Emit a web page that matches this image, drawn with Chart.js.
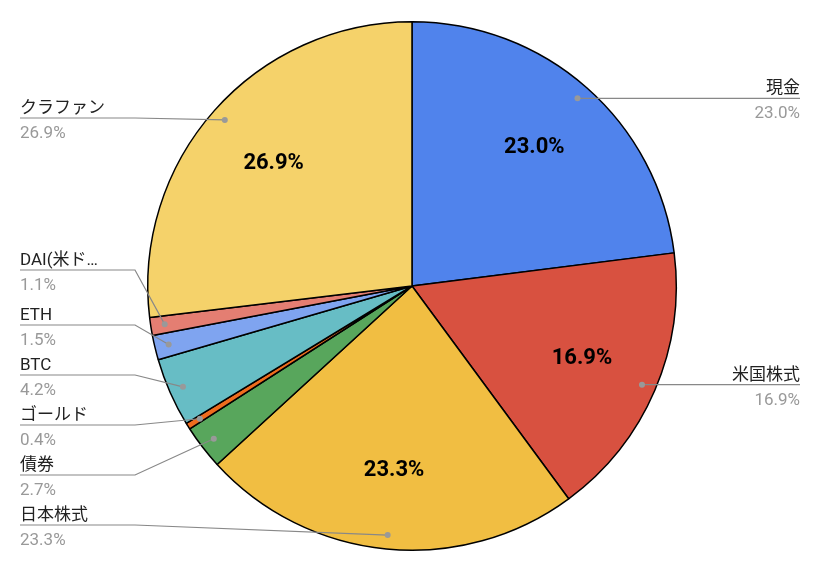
<!DOCTYPE html>
<html><head><meta charset="utf-8">
<script src="https://cdn.jsdelivr.net/npm/chart.js@4"></script>
<style>html,body{margin:0;background:#fff}#c{display:block}</style>
</head><body>
<div style="width:826px;height:574px"><canvas id="c"></canvas></div>
<script>
var labels = ['現金', '米国株式', '日本株式', '債券', 'ゴールド', 'BTC', 'ETH', 'DAI(米ドル)', 'クラファン'];
var shortLabels = ['現金', '米国株式', '日本株式', '債券', 'ゴールド', 'BTC', 'ETH', 'DAI(米ド…', 'クラファン'];
var values = [23.0, 16.9, 23.3, 2.7, 0.4, 4.2, 1.5, 1.1, 26.9];
var colors = ['#5083EC', '#D85140', '#F1BE42', '#58A65C', '#EE6C1E', '#67BDC5', '#7FA4F0', '#E47E72', '#F5D26A'];

var FONT = 'Roboto, "Noto Sans CJK JP", sans-serif';
// 外側ラベルの行位置(左側は y、右側は点の高さに揃える)
var leftRowY = { 2: 525, 3: 475, 4: 425, 5: 375, 6: 325, 7: 270, 8: 118 };

var labelPlugin = {
  id: 'pieLabels',
  afterDraw: function (chart) {
    var ctx = chart.ctx;
    var arcs = chart.getDatasetMeta(0).data;
    ctx.save();
    arcs.forEach(function (arc, i) {
      var mid = (arc.startAngle + arc.endAngle) / 2;
      var r = arc.outerRadius;
      var cx = arc.x, cy = arc.y;
      var pct = values[i].toFixed(1) + '%';
      if (values[i] > 10) {
        ctx.fillStyle = '#000';
        ctx.font = 'bold 22px ' + FONT;
        ctx.textAlign = 'center';
        ctx.textBaseline = 'middle';
        ctx.fillText(pct, cx + Math.cos(mid) * r * 0.7, cy + Math.sin(mid) * r * 0.7);
      }
      var dx = cx + Math.cos(mid) * (r - 14);
      var dy = cy + Math.sin(mid) * (r - 14);
      ctx.strokeStyle = '#888';
      ctx.lineWidth = 1.2;
      ctx.beginPath();
      var ly, tx, align;
      if (Math.cos(mid) > 0) {
        ly = dy; tx = 800; align = 'right';
        ctx.moveTo(dx, dy); ctx.lineTo(800, ly);
      } else {
        ly = leftRowY[i]; tx = 20; align = 'left';
        ctx.moveTo(dx, dy);
        if (i === 2 || i === 8) ctx.lineTo(135, ly); else ctx.lineTo(135, ly);
        ctx.lineTo(20, ly);
      }
      ctx.stroke();
      ctx.fillStyle = '#999';
      ctx.beginPath(); ctx.arc(dx, dy, 3, 0, Math.PI * 2); ctx.fill();
      ctx.textAlign = align;
      ctx.textBaseline = 'alphabetic';
      ctx.font = '17px ' + FONT;
      ctx.fillStyle = '#222';
      ctx.fillText(shortLabels[i], tx, ly - 5);
      ctx.fillStyle = '#999';
      ctx.fillText(pct, tx, ly + 20);
    });
    ctx.restore();
  }
};

new Chart(document.getElementById('c'), {
  type: 'pie',
  data: { labels: labels, datasets: [{ data: values, backgroundColor: colors, borderColor: '#000', borderWidth: 1.5 }] },
  options: {
    animation: false, responsive: true, maintainAspectRatio: false,
    layout: { padding: { left: 147, right: 149, top: 21, bottom: 23 } },
    plugins: { legend: { display: false }, tooltip: { enabled: false } }
  },
  plugins: [labelPlugin]
});
</script>
</body></html>
